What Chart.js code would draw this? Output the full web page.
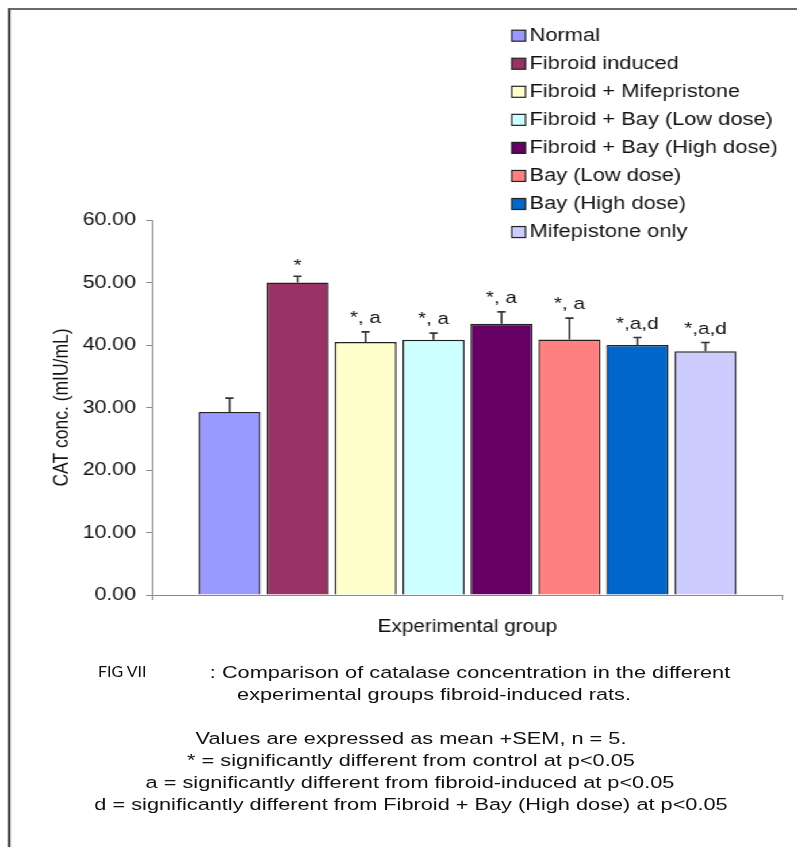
<!DOCTYPE html>
<html>
<head>
<meta charset="utf-8">
<script src="https://cdn.jsdelivr.net/npm/chart.js@4/dist/chart.umd.min.js"></script>
<style>
  html, body { margin: 0; padding: 0; background: #fff; overflow: hidden; }
  body { width: 797px; height: 847px; position: relative; }
  #wrap { position: absolute; left: 0; top: 0; width: 693px; height: 847px;
          transform: scaleX(1.15); transform-origin: 0 0; }
  #frame { position: absolute; left: 7px; top: 8px; width: 800px; height: 900px;
           border-left: 2px solid #3a3a3a; border-top: 2px solid #6a6a6a; }
  #chart { position: absolute; left: 0; top: 0; }
  .cap { position: absolute; width: 800px; text-align: center; white-space: nowrap;
         font-family: "Liberation Sans", Arial, sans-serif; font-size: 16.3px;
         line-height: 22px; color: #111; transform: scaleX(1.335); transform-origin: 50% 50%; }
  #fig { position: absolute; left: 98px; top: 662px; font-family: Lato, "Open Sans", sans-serif;
         font-size: 14.5px; line-height: 20px; color: #111; transform: scaleX(1.1); transform-origin: 0 50%; }
</style>
</head>
<body>
<div id="wrap">
  <div id="frame"></div>
  <canvas id="chart" width="693" height="650"></canvas>
</div>
<div id="fig">FIG VII</div>
<div class="cap" style="left:70px; top:661px;">: Comparison of catalase concentration in the different</div>
<div class="cap" style="left:34px; top:683px;">experimental groups fibroid-induced rats.</div>
<div class="cap" style="left:11px; top:727px;">Values are expressed as mean +SEM, n = 5.</div>
<div class="cap" style="left:11px; top:749px;">* = significantly different from control at p&lt;0.05</div>
<div class="cap" style="left:10px; top:771px;">a = significantly different from fibroid-induced at p&lt;0.05</div>
<div class="cap" style="left:11px; top:793px;">d = significantly different from Fibroid + Bay (High dose) at p&lt;0.05</div>
<script>
// ---- data ----
const groups = ["Normal", "Fibroid induced", "Fibroid + Mifepristone", "Fibroid + Bay (Low dose)",
                "Fibroid + Bay (High dose)", "Bay (Low dose)", "Bay (High dose)", "Mifepistone only"];
const means = [29.3, 50.0, 40.5, 40.85, 43.4, 40.9, 40.0, 39.0];
const sems = [2.2, 1.0, 1.6, 1.05, 1.9, 3.4, 1.2, 1.4];
const sigLabels = ["", "*", "*, a", "*, a", "*, a", "*, a", "*,a,d", "*,a,d"];
const colors = ["#9999FF", "#993366", "#FFFFCC", "#CCFFFF", "#660066", "#FF8080", "#0066CC", "#CCCCFF"];
const yTicks = [0, 10, 20, 30, 40, 50, 60];
const categories = [""];
const xTitle = "Experimental group";
const yTitle = "CAT conc. (mIU/mL)";

const FONT = '"Liberation Sans", Arial, sans-serif';

const datasets = groups.map((g, i) => ({
  label: g,
  data: [means[i]],
  backgroundColor: colors[i],
  borderColor: "#222",
  borderWidth: 1.5,
  categoryPercentage: 0.862,
  barPercentage: 0.912
}));

function stretchedText(ctx, text, x, y, sx) {
  ctx.save();
  ctx.translate(x, y);
  ctx.scale(sx, 1);
  ctx.fillText(text, 0, 0);
  ctx.restore();
}

const errorBars = {
  id: "errorBars",
  afterDatasetsDraw(chart) {
    const ctx = chart.ctx;
    const y = chart.scales.y;
    ctx.save();
    chart.data.datasets.forEach((ds, i) => {
      const bar = chart.getDatasetMeta(i).data[0];
      const top = y.getPixelForValue(means[i] + sems[i]);
      ctx.strokeStyle = "#333";
      ctx.lineWidth = 1.6;
      ctx.beginPath();
      ctx.moveTo(bar.x, bar.y);
      ctx.lineTo(bar.x, top);
      ctx.moveTo(bar.x - 3.6, top);
      ctx.lineTo(bar.x + 3.6, top);
      ctx.stroke();
      if (sigLabels[i]) {
        ctx.fillStyle = "#111";
        ctx.font = "17px " + FONT;
        ctx.textAlign = "center";
        ctx.textBaseline = "alphabetic";
        stretchedText(ctx, sigLabels[i], bar.x, top - (sigLabels[i] === "*" ? 5 : 9), 1.06);
      }
    });
    ctx.restore();
  }
};

const sideLegend = {
  id: "sideLegend",
  afterDraw(chart) {
    const ctx = chart.ctx;
    ctx.save();
    chart.data.datasets.forEach((ds, i) => {
      const cy = 35.7 + i * 28.05;
      ctx.fillStyle = ds.backgroundColor;
      ctx.fillRect(445, cy - 5.5, 12, 11);
      ctx.strokeStyle = "#222";
      ctx.lineWidth = 1.2;
      ctx.strokeRect(445, cy - 5.5, 12, 11);
      ctx.fillStyle = "#111";
      ctx.font = "17.5px " + FONT;
      ctx.textAlign = "left";
      ctx.textBaseline = "middle";
      stretchedText(ctx, ds.label, 460.5, cy + 0.5, 1.085);
    });
    ctx.restore();
  }
};

new Chart(document.getElementById("chart"), {
  type: "bar",
  data: { labels: categories, datasets },
  options: {
    responsive: false,
    animation: false,
    events: [],
    layout: { padding: { top: 220, right: 12.1, bottom: 0, left: 0 } },
    plugins: { legend: { display: false }, tooltip: { enabled: false } },
    scales: {
      x: {
        offset: true,
        grid: { display: true, drawOnChartArea: false, drawTicks: true, tickLength: 5, color: "#888", offset: true },
        border: { display: true, color: "#888", width: 1 },
        ticks: { display: false },
        title: { display: true, text: xTitle, color: "#111",
                 font: { family: FONT, size: 18 }, padding: { top: 0, bottom: 12.2 } },
        afterFit(scale) { scale.height = 55; }
      },
      y: {
        min: 0, max: 60,
        afterBuildTicks(scale) { scale.ticks = yTicks.map(v => ({ value: v })); },
        grid: { display: true, drawOnChartArea: false, drawTicks: true, tickLength: 5, color: "#888" },
        border: { display: true, color: "#888", width: 1 },
        ticks: { color: "#111", padding: 9, font: { family: FONT, size: 18.5 },
                 callback: v => Number(v).toFixed(2) },
        title: { display: true, text: yTitle, color: "#111",
                 font: { family: FONT, size: 17.5 }, padding: { top: 43.4, bottom: 0 } },
        afterFit(scale) { scale.width = 132.2; }
      }
    }
  },
  plugins: [errorBars, sideLegend]
});
</script>
</body>
</html>
